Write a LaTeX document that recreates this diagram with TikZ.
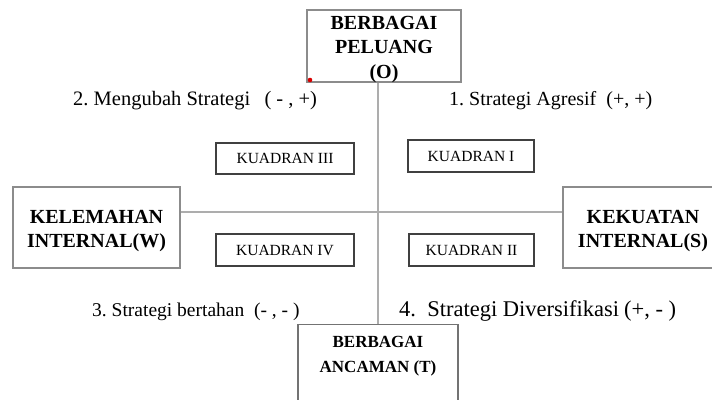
\documentclass[tikz,border=0pt]{standalone}
\usepackage{fontspec}
\setmainfont{Liberation Serif}
\frenchspacing
\begin{document}
\begin{tikzpicture}[x=1pt,y=1pt,
  conn/.style={draw=black!32, line width=1.3pt},
  bigbox/.style={draw=black!45, line width=1.3pt, fill=white, inner sep=0pt},
  bigtxt/.style={align=center, inner sep=0pt, font=\fontsize{20}{24.5}\selectfont\bfseries},
  qbox/.style={draw=black!75, line width=1.3pt, fill=white, font=\fontsize{15.5}{18}\selectfont, minimum height=31, inner sep=0pt},
  lbl/.style={anchor=base west, inner sep=0pt, font=\fontsize{20.5}{23}\selectfont}]
\useasboundingbox (0,0) rectangle (712,-399);
\fill[white] (0,0) rectangle (712,-399);
\coordinate (c) at (378,-212);
% main boxes
\node[bigbox, minimum width=154, minimum height=72] (top) at (384,-46) {};
\node[bigtxt] (toptxt) at (384,-49.5) {BERBAGAI\\PELUANG\\(O)};
\node[bigbox, minimum width=167, minimum height=81] (left) at (96.5,-227.5) {};
\node[bigtxt] (lefttxt) at (96.5,-231) {KELEMAHAN\\INTERNAL(W)};
\node[bigbox, minimum width=160, minimum height=81] (right) at (643,-227.5) {};
\node[bigtxt] (righttxt) at (643,-231) {KEKUATAN\\INTERNAL(S)};
\node[bigbox, draw=black!55, minimum width=160, minimum height=90, anchor=north] (bottom) at (378,-324) {};
\node[align=center, inner sep=0pt, font=\fontsize{17}{25}\selectfont\bfseries, anchor=north] (bottomtxt) at (378,-336) {BERBAGAI\\ANCAMAN (T)};
% connectors
\draw[conn] (bottom.north) -- (bottom.north |- top.south);
\draw[conn] (left.east |- c) -- (right.west |- c);
% quadrant boxes
\node[qbox, minimum width=138] (q3) at (285,-158.5) {KUADRAN III\hspace{8pt}};
\node[qbox, minimum width=126, minimum height=32] (q1) at (471,-156) {KUADRAN I\hspace{6pt}};
\node[qbox, minimum width=138, minimum height=32] (q4) at (285,-250) {KUADRAN IV\hspace{8pt}};
\node[qbox, minimum width=125, minimum height=32] (q2) at (471.5,-250) {KUADRAN II\hspace{2pt}};
% labels
\node[lbl] (l2) at (73,-105) {2. Mengubah Strategi~~\hspace{4pt}( - , +)};
\node[lbl, font=\fontsize{20}{23}\selectfont] (l1) at (449,-105) {1. Strategi Agresif~~(+, +)};
\node[lbl, font=\fontsize{19.5}{22}\selectfont] (l3) at (92,-316) {3. Strategi bertahan~~(- , - )};
\node[lbl, font=\fontsize{22.5}{25}\selectfont] (l4) at (399,-316) {4.~~Strategi Diversifikasi\hspace{5pt}(+, - )};
% stray mark
\fill[red!85!black] (310,-80) circle (2.3);
\end{tikzpicture}
\end{document}
